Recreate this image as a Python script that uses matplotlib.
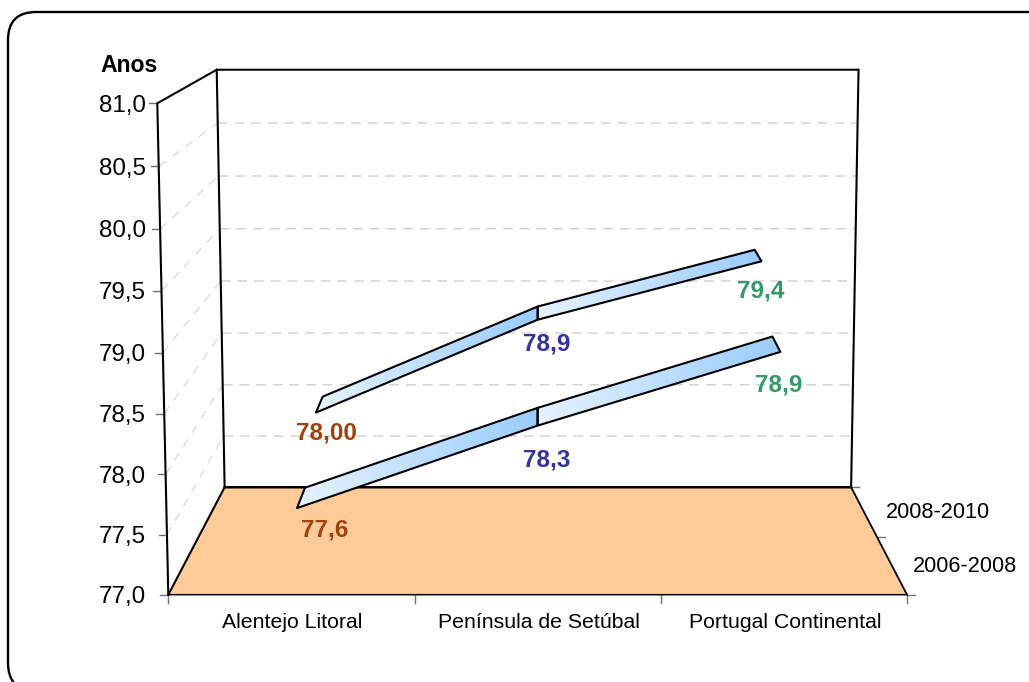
import numpy as np
from matplotlib import pyplot as plt
from matplotlib.colors import LinearSegmentedColormap
from matplotlib.patches import FancyBboxPatch, Polygon

plt.rcParams["font.family"] = ["Liberation Sans", "DejaVu Sans"]

# chart values
categories = ["Alentejo Litoral", "Península de Setúbal", "Portugal Continental"]
periods = ["2006-2008", "2008-2010"]
values_2006 = [77.58, 78.28, 78.9]
values_2008 = [78.0, 78.85, 79.38]
labels_2006 = ["77,6", "78,3", "78,9"]
labels_2008 = ["78,00", "78,9", "79,4"]
value_ticks = [77.0, 77.5, 78.0, 78.5, 79.0, 79.5, 80.0, 80.5, 81.0]
value_tick_labels = ["77,0", "77,5", "78,0", "78,5", "79,0", "79,5", "80,0", "80,5", "81,0"]

VMIN, VMAX = 77.0, 81.0
RIBBON_HALF = 0.097


def fit_camera():
    # 3d box corners (category, depth, value) -> pixel position of the box in the figure
    box = [
        ((0, 0, 0), (168, 595)), ((1, 0, 0), (907, 595)),
        ((0, 1, 0), (225, 487)), ((1, 1, 0), (851, 487)),
        ((0, 0, 1), (158, 103)), ((1, 0, 1), (917, 103)),
        ((0, 1, 1), (216, 70)), ((1, 1, 1), (859, 70)),
    ]
    rows, rhs = [], []
    for (a, b, c), (px, py) in box:
        rows.append([a, b, c, 1, 0, 0, 0, 0, -px * a, -px * b, -px * c])
        rows.append([0, 0, 0, 0, a, b, c, 1, -py * a, -py * b, -py * c])
        rhs += [px, py]
    m = np.linalg.lstsq(np.array(rows, float), np.array(rhs, float), rcond=None)[0]
    return np.append(m, 1.0).reshape(3, 4)


CAMERA = fit_camera()


def project(u, d, value):
    v = (value - VMIN) / (VMAX - VMIN)
    x, y, w = CAMERA @ np.array([u, d, v, 1.0])
    return x / w, y / w


def category_pos(i):
    return (i + 0.5) / len(categories)


fig = plt.figure(figsize=(10.29, 6.82), dpi=100)
ax = fig.add_axes([0, 0, 1, 1])
ax.set_xlim(0, 1029)
ax.set_ylim(682, 0)
ax.axis("off")

# chart frame, runs off the right and bottom of the picture
ax.add_patch(FancyBboxPatch((8, 12), 1060, 679, boxstyle="round,pad=0,rounding_size=28",
                            fc="white", ec="black", lw=1.7, zorder=0))

# floor
floor = [project(0, 0, VMIN), project(1, 0, VMIN), project(1, 1, VMIN), project(0, 1, VMIN)]
ax.add_patch(Polygon(floor, closed=True, fc="#FFCC99", ec="none", zorder=1))

# gridlines on both walls
for value in value_ticks[1:-1]:
    xs, ys = zip(project(0, 0, value), project(0, 1, value))
    ax.plot(xs, ys, color="#CFCFCF", lw=0.7, dashes=(9, 8), zorder=1.5)
    xs, ys = zip(project(0, 1, value), project(1, 1, value))
    ax.plot(xs, ys, color="#CFCFCF", lw=1.0, dashes=(7, 5), zorder=1.5)


# box edges
def edge(p, q, lw=1.5, color="black", zorder=2):
    ax.plot([p[0], q[0]], [p[1], q[1]], color=color, lw=lw, zorder=zorder, solid_capstyle="round")


edge(project(0, 0, VMIN), project(0, 0, VMAX), 1.5)
edge(project(0, 0, VMAX), project(0, 1, VMAX), 1.5)
edge(project(0, 1, VMIN), project(0, 1, VMAX), 1.5)
edge(project(1, 1, VMIN), project(1, 1, VMAX), 1.5)
edge(project(0, 1, VMAX), project(1, 1, VMAX), 1.5)
edge(project(0, 1, VMIN), project(1, 1, VMIN), 1.8)
edge(project(0, 0, VMIN), project(0, 1, VMIN), 1.5)
edge(project(1, 0, VMIN), project(1, 1, VMIN), 1.3)
edge(project(0, 0, VMIN), project(1, 0, VMIN), 1.1)

# ticks and tick labels
TICK = "#707070"
for value, label in zip(value_ticks, value_tick_labels):
    x, y = project(0, 0, value)
    ax.plot([x - 8, x], [y, y], color=TICK, lw=1, zorder=1.8)
    ax.text(146, y, label, ha="right", va="center_baseline", fontsize=17.4, color="black")
for i in range(len(categories) + 1):
    x, y = project(i / len(categories), 0, VMIN)
    ax.plot([x, x], [y, y + 8], color=TICK, lw=1, zorder=1.8)
for d in [0, 0.5, 1]:
    x, y = project(1, d, VMIN)
    ax.plot([x, x + 8], [y, y], color=TICK, lw=1, zorder=1.8)

for i, name in enumerate(categories):
    x, _ = project(category_pos(i), 0, VMIN)
    ax.text(x + 1, 621, name, ha="center", va="center_baseline", fontsize=15.3)
ax.text(913, 563.5, periods[0], ha="left", va="center_baseline", fontsize=15.6)
ax.text(886, 509.5, periods[1], ha="left", va="center_baseline", fontsize=15.6)
ax.text(129, 63, "Anos", ha="center", va="center_baseline", fontsize=16.6, fontweight="bold")

# ribbons
ribbon_cmap = LinearSegmentedColormap.from_list("ribbon", ["#E6F2FF", "#99CCFF"])
gradient = np.linspace(0, 1, 256).reshape(1, -1)


def draw_ribbon(values, depth):
    d0, d1 = depth - RIBBON_HALF, depth + RIBBON_HALF
    for i in range(len(values) - 1):
        u0, u1 = category_pos(i), category_pos(i + 1)
        pts = [project(u0, d0, values[i]), project(u1, d0, values[i + 1]),
               project(u1, d1, values[i + 1]), project(u0, d1, values[i])]
        xs, ys = zip(*pts)
        im = ax.imshow(gradient, cmap=ribbon_cmap, aspect="auto", zorder=3,
                       extent=(min(xs), max(xs), max(ys), min(ys)))
        outline = Polygon(pts, closed=True, fc="none", ec="black", lw=1.5, zorder=3.1,
                          joinstyle="round")
        ax.add_patch(outline)
        im.set_clip_path(outline)


draw_ribbon(values_2008, 0.75)
draw_ribbon(values_2006, 0.25)
ax.set_xlim(0, 1029)
ax.set_ylim(682, 0)

# data labels, offset in pixels from the ribbon point
label_colors = ["#A0420E", "#333399", "#339966"]
offsets_2006 = [(24, 30), (9, 41), (2, 38)]
offsets_2008 = [(7, 26), (9, 28), (3, 33)]
for values, labels, offsets, depth in [(values_2006, labels_2006, offsets_2006, 0.25),
                                       (values_2008, labels_2008, offsets_2008, 0.75)]:
    for i, (value, label) in enumerate(zip(values, labels)):
        x, y = project(category_pos(i), depth, value)
        ax.text(x + offsets[i][0], y + offsets[i][1], label, ha="center", va="center_baseline",
                fontsize=17.5, fontweight="bold", color=label_colors[i], zorder=4)

fig.savefig("out.png", dpi=100)
